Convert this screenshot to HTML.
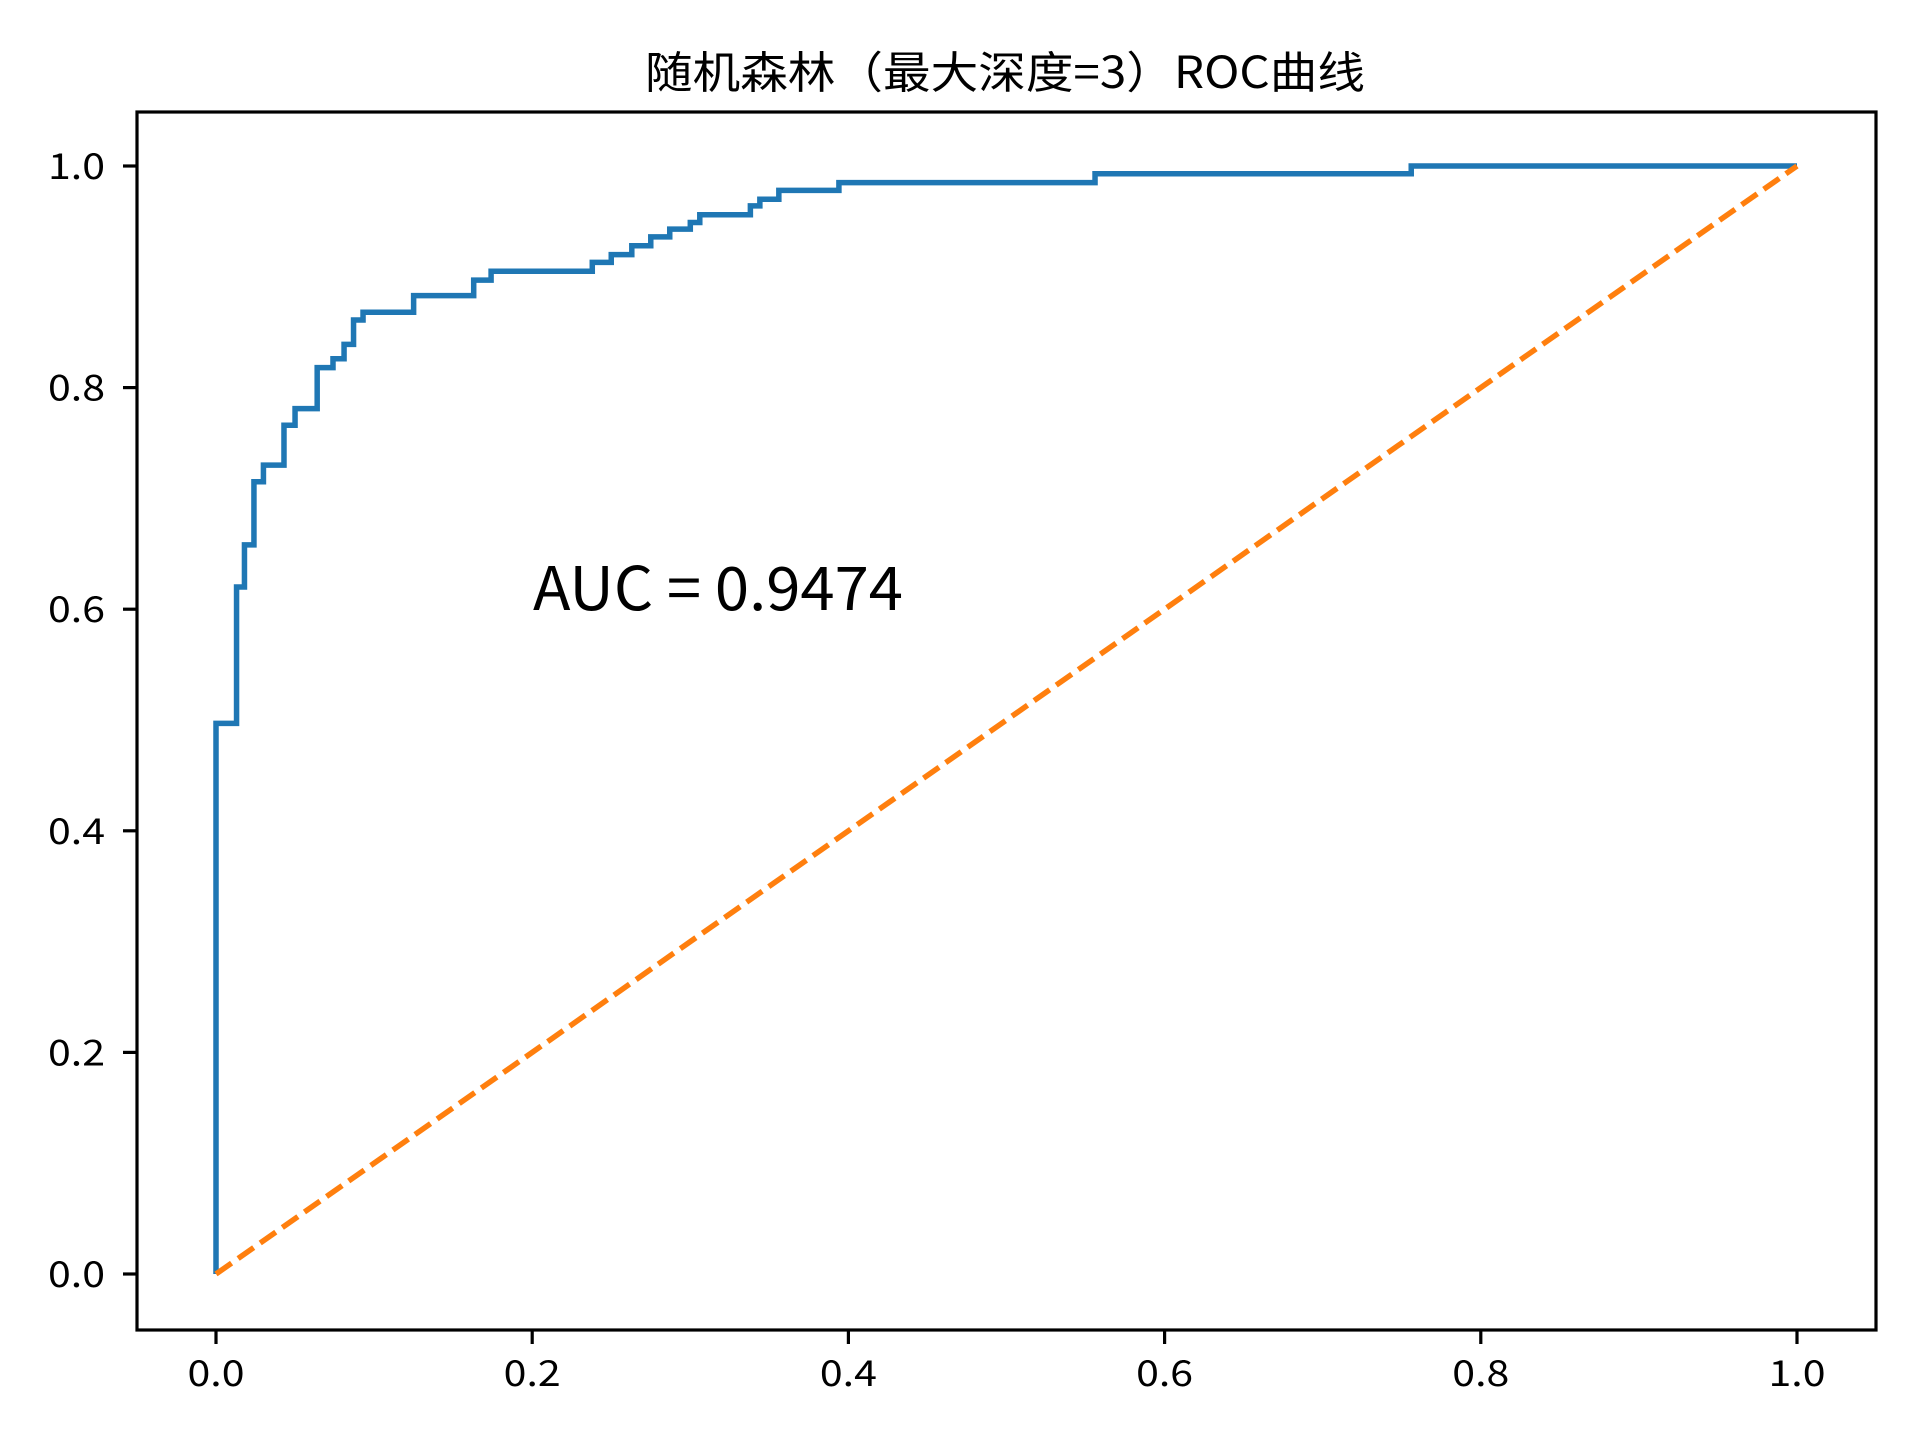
<!DOCTYPE html>
<html><head><meta charset="utf-8"><style>
html,body{margin:0;padding:0;background:#fff;}
svg{display:block;}
</style></head><body>
<svg id="chart" width="1920" height="1440" viewBox="0 0 1920 1440" xmlns="http://www.w3.org/2000/svg">
<rect width="1920" height="1440" fill="#fff"/>
<text x="1005" y="88" text-anchor="middle" font-family="'WenQuanYi Zen Hei','Noto Sans CJK SC',sans-serif" font-size="44" textLength="720" lengthAdjust="spacingAndGlyphs">随机森林（最大深度=3）ROC曲线</text>
<g id="plot"></g>
<rect x="137" y="112" width="1739" height="1218" fill="none" stroke="#000" stroke-width="3.2"/>
<text x="533" y="610" font-family="'WenQuanYi Zen Hei','Noto Sans CJK SC',sans-serif" font-size="60" textLength="370" lengthAdjust="spacingAndGlyphs">AUC = 0.9474</text>
</svg>
<script>
const fpr = [0,0,0.013,0.013,0.018,0.018,0.024,0.024,0.030,0.030,0.043,0.043,0.050,0.050,0.064,0.064,0.074,0.074,0.081,0.081,0.087,0.087,0.093,0.093,0.125,0.125,0.163,0.163,0.174,0.174,0.238,0.238,0.250,0.250,0.263,0.263,0.275,0.275,0.287,0.287,0.300,0.300,0.306,0.306,0.338,0.338,0.344,0.344,0.356,0.356,0.394,0.394,0.556,0.556,0.756,0.756,1.0];
const tpr = [0,0.497,0.497,0.620,0.620,0.658,0.658,0.715,0.715,0.730,0.730,0.766,0.766,0.781,0.781,0.818,0.818,0.826,0.826,0.839,0.839,0.861,0.861,0.868,0.868,0.883,0.883,0.897,0.897,0.905,0.905,0.913,0.913,0.920,0.920,0.928,0.928,0.936,0.936,0.943,0.943,0.949,0.949,0.956,0.956,0.964,0.964,0.970,0.970,0.978,0.978,0.985,0.985,0.993,0.993,1.0,1.0];
const diagX = [0,1];
const diagY = [0,1];
const xTicks = [0,0.2,0.4,0.6,0.8,1.0];
const yTicks = [0,0.2,0.4,0.6,0.8,1.0];
const xTickLabels = ["0.0","0.2","0.4","0.6","0.8","1.0"];
const yTickLabels = ["0.0","0.2","0.4","0.6","0.8","1.0"];

const X0=216, X1=1797, Y0=1274, Y1=166;
function sx(v){return X0+(X1-X0)*v;}
function sy(v){return Y0-(Y0-Y1)*v;}
const NS="http://www.w3.org/2000/svg";
const g=document.getElementById('plot');
function mk(t,a){const e=document.createElementNS(NS,t);for(const k in a)e.setAttribute(k,a[k]);g.appendChild(e);return e;}
const FF="'WenQuanYi Zen Hei','Noto Sans CJK SC',sans-serif";

xTicks.forEach((v,i)=>{
  const t=mk('line',{x1:sx(v),x2:sx(v),y1:1330,y2:1344,stroke:'#000','stroke-width':3.2});
  
  
  const l=mk('text',{x:sx(v),y:1386,'text-anchor':'middle','font-family':FF,'font-size':36,textLength:57,lengthAdjust:'spacingAndGlyphs'});
  l.textContent=xTickLabels[i];
  
  
});
yTicks.forEach((v,i)=>{
  const t=mk('line',{x1:123,x2:137,y1:sy(v),y2:sy(v),stroke:'#000','stroke-width':3.2});
  
  
  const l=mk('text',{x:105,y:sy(v)+13,'text-anchor':'end','font-family':FF,'font-size':36,textLength:57,lengthAdjust:'spacingAndGlyphs'});
  l.textContent=yTickLabels[i];
  
  
});
const roc=mk('polyline',{points:fpr.map((v,i)=>sx(v)+','+sy(tpr[i])).join(' '),fill:'none',stroke:'#1f77b4','stroke-width':5.5,'stroke-linejoin':'miter'});


const dg=mk('polyline',{points:diagX.map((v,i)=>sx(v)+','+sy(diagY[i])).join(' '),fill:'none',stroke:'#ff7f0e','stroke-width':5.5,'stroke-dasharray':'19 8'});


</script>
</body></html>
